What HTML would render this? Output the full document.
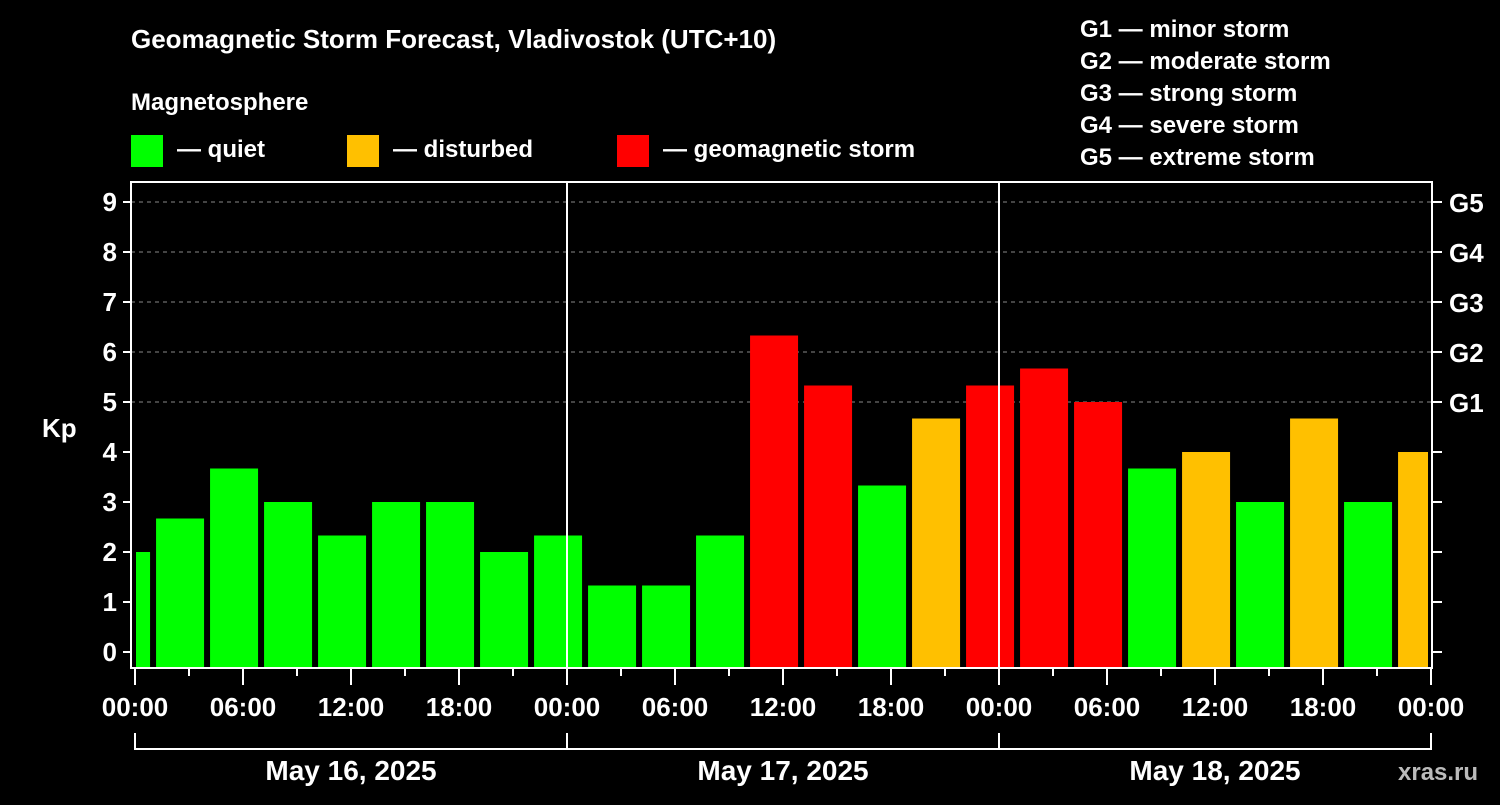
<!DOCTYPE html>
<html><head><meta charset="utf-8"><style>
body{margin:0;background:#000;width:1500px;height:800px;overflow:hidden;font-family:"Liberation Sans",Arial,sans-serif;}
svg text{font-family:"Liberation Sans",Arial,sans-serif;font-weight:bold;fill:#fff;}
</style></head><body>
<svg id="chart" width="1500" height="800" xmlns="http://www.w3.org/2000/svg">
<text x="131" y="48" font-size="26">Geomagnetic Storm Forecast, Vladivostok (UTC+10)</text>
<text x="131" y="110" font-size="24">Magnetosphere</text>
<rect x="131" y="135" width="32" height="32" fill="#00ff00"/>
<text x="177" y="157" font-size="24">— quiet</text>
<rect x="347" y="135" width="32" height="32" fill="#ffc000"/>
<text x="393" y="157" font-size="24">— disturbed</text>
<rect x="617" y="135" width="32" height="32" fill="#ff0000"/>
<text x="663" y="157" font-size="24">— geomagnetic storm</text>
<g font-size="24">
<text x="1080" y="37">G1 — minor storm</text>
<text x="1080" y="69">G2 — moderate storm</text>
<text x="1080" y="101">G3 — strong storm</text>
<text x="1080" y="133">G4 — severe storm</text>
<text x="1080" y="165">G5 — extreme storm</text>
</g>
<text x="42" y="437" font-size="26">Kp</text>
<g id="grid"></g><g id="bars"></g><g id="axes"></g>
<text x="1398" y="780" font-size="24" style="fill:#bbb">xras.ru</text>
</svg>
<script>
const kpValues=[2,2.67,3.67,3,2.33,3,3,2,2.33,1.33,1.33,2.33,6.33,5.33,3.33,4.67,5.33,5.67,5,3.67,4,3,4.67,3,4];
const kpTicks=[0,1,2,3,4,5,6,7,8,9];
const gLabels=["","","","","","G1","G2","G3","G4","G5"];
const hourLabels=["00:00","06:00","12:00","18:00","00:00","06:00","12:00","18:00","00:00","06:00","12:00","18:00","00:00"];
const dayLabels=["May 16, 2025","May 17, 2025","May 18, 2025"];
const NS="http://www.w3.org/2000/svg";
const L=131,R=1432,T=182,B=668,X0=135,PXH=18;
const y=v=>652-50*v;
const x=h=>X0+PXH*h;
function mk(tag,attrs,parent,txt){const e=document.createElementNS(NS,tag);for(const k in attrs)e.setAttribute(k,attrs[k]);if(txt!==undefined)e.textContent=txt;parent.appendChild(e);return e;}
const grid=document.getElementById('grid'),bars=document.getElementById('bars'),axes=document.getElementById('axes');
kpTicks.forEach(v=>{
 if(v>=5){const g=mk('line',{x1:L,x2:R,y1:y(v),y2:y(v),stroke:'#888','stroke-dasharray':'4,4'},grid);
 
 }
 const t=mk('line',{x1:L-8,x2:L,y1:y(v),y2:y(v),stroke:'#fff','stroke-width':2},axes);
 
 
 const lb=mk('text',{x:L-14,y:y(v)+9,'font-size':26,'text-anchor':'end'},axes,String(v));
 
 
 const rt=mk('line',{x1:R,x2:R+10,y1:y(v),y2:y(v),stroke:'#fff','stroke-width':2},axes);
 
 
 if(gLabels[v]){const gl=mk('text',{x:R+17,y:y(v)+10,'font-size':26},axes,gLabels[v]);
 
 }
});
kpValues.forEach((v,i)=>{
 let x1=x(3*i-1.83),x2=x1+48;x1=Math.max(x1,L+5);x2=Math.min(x2,R-4);
 const c=v>=5?'#ff0000':(v>=4?'#ffc000':'#00ff00');
 const r=mk('rect',{x:x1,y:y(v),width:x2-x1,height:B-y(v),fill:c},bars);
 
 
});
[1,2].forEach(d=>{const l=mk('line',{x1:x(24*d),x2:x(24*d),y1:T,y2:B,stroke:'#fff','stroke-width':2},axes);
 
 });
const fr=mk('rect',{x:L,y:T,width:R-L,height:B-T,fill:'none',stroke:'#fff','stroke-width':2},axes);


for(let h=0;h<=72;h+=3){const t=mk('line',{x1:x(h),x2:x(h),y1:B,y2:B+(h%6===0?17:8),stroke:'#fff','stroke-width':2},axes);
 
 }
hourLabels.forEach((s,i)=>{const t=mk('text',{x:x(6*i),y:716,'font-size':26,'text-anchor':'middle'},axes,s);
 
 });
mk('path',{d:`M${x(0)},733V749H${x(72)}V733M${x(24)},733V749M${x(48)},733V749`,stroke:'#fff','stroke-width':2,fill:'none'},axes);
dayLabels.forEach((s,i)=>{const t=mk('text',{x:x(24*i+12),y:780,'font-size':28,'text-anchor':'middle'},axes,s);
 
 });
</script>
</body></html>
